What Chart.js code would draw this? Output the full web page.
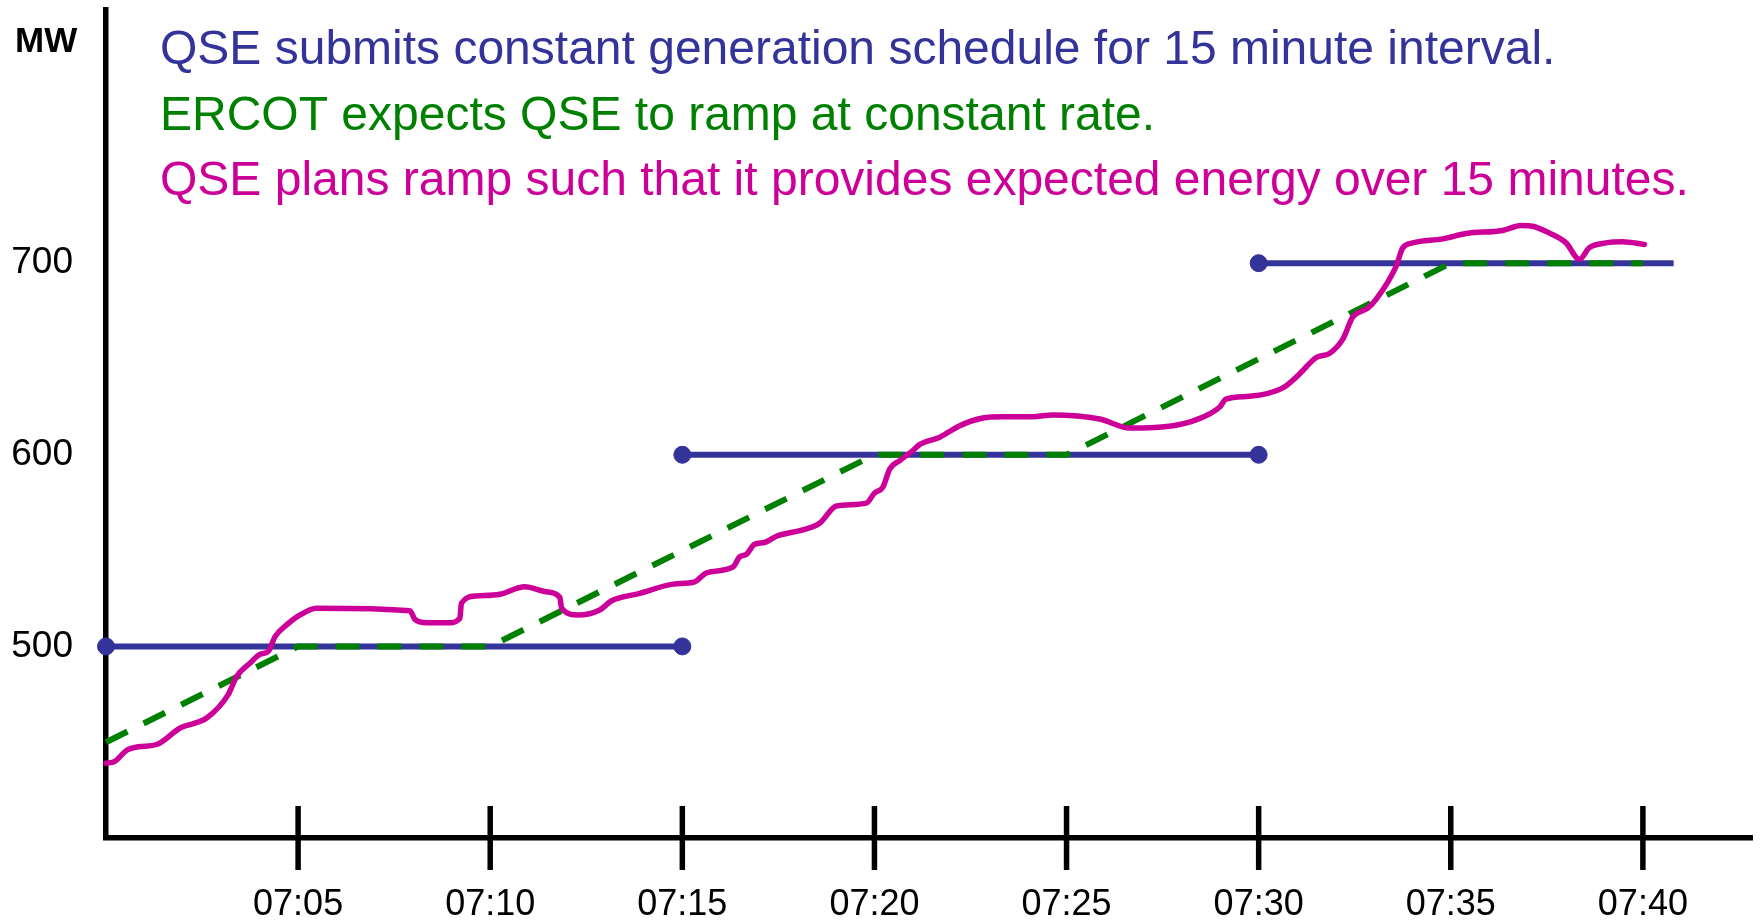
<!DOCTYPE html>
<html>
<head>
<meta charset="utf-8">
<script src="https://cdn.jsdelivr.net/npm/chart.js@4.4.1/dist/chart.umd.min.js"></script>
<style>
  html, body { margin: 0; padding: 0; background: #ffffff; }
  #wrap { width: 1763px; height: 921px; position: relative; }
</style>
</head>
<body>
<div id="wrap"><canvas id="c" width="1763" height="921"></canvas></div>
<script>
// ---- Data (minutes after 07:00, MW) ----
const xTickMinutes = [5, 10, 15, 20, 25, 30, 35, 40];
const xTickLabels = ['07:05', '07:10', '07:15', '07:20', '07:25', '07:30', '07:35', '07:40'];
const yTickValues = [500, 600, 700];

// QSE submitted constant schedule (blue)
const scheduleStart = [0, 15, 30];
const scheduleEnd = [15, 30, 40.8];
const scheduleMW = [500, 600, 700];
const scheduleEndDot = [true, true, false];

// ERCOT expected ramp (green dashed)
const rampMin = [0, 5, 10, 20, 25, 35, 40];
const rampMW = [450, 500, 500, 600, 600, 700, 700];

// QSE planned ramp (magenta)
const planMin = [0.0, 0.23, 0.54, 0.84, 1.32, 1.93, 2.62, 3.18, 3.40, 3.75, 4.01, 4.22, 4.40, 4.70, 5.05, 5.48,
  7.91, 8.04, 8.34, 8.95, 9.21, 9.25, 9.64, 10.25, 10.90, 11.46, 11.81, 11.86, 12.29, 12.85, 13.16, 13.89,
  14.76, 15.32, 15.63, 16.32, 16.49, 16.67, 16.88, 17.14, 17.45, 18.23, 18.58, 19.01, 19.79, 20.00, 20.22,
  20.40, 20.66, 21.00, 21.18, 21.70, 22.22, 22.82, 23.34, 24.12, 24.64, 25.86, 26.64, 27.77, 28.37, 28.98,
  29.15, 29.76, 30.63, 31.06, 31.50, 31.84, 32.19, 32.45, 32.84, 33.06, 33.58, 33.75, 34.01, 34.79, 35.40,
  36.35, 36.83, 37.13, 37.56, 38.00, 38.35, 38.60, 39.04, 39.47, 40.04];
const planMW = [439, 440, 445.8, 447.6, 448.8, 457.4, 462.6, 474.8, 484.3, 491.3, 495.9, 497.3, 505.1, 511.2, 516.4, 519.9,
  518.6, 514.1, 512.4, 512.4, 514.7, 522.5, 526.3, 527.2, 531.1, 528.5, 525.6, 519.9, 516.4, 519.0, 523.8, 527.7,
  532.5, 533.7, 538.4, 541.5, 546.7, 548.1, 553.3, 554.2, 557.5, 561.3, 564.4, 573.3, 574.8, 580.0, 583.1,
  592.7, 597.0, 602.2, 605.4, 609.2, 615.2, 619.2, 619.9, 619.9, 620.8, 618.7, 614.0, 615.2, 618.2, 624.8,
  629.1, 630.5, 634.9, 642.1, 650.8, 652.9, 660.4, 672.0, 676.5, 681.2, 698.5, 708.0, 710.6, 712.7, 715.5,
  717.1, 719.7, 719.3, 715.8, 710.6, 702.0, 708.0, 710.6, 711.2, 709.8];

const titleLines = [
  'QSE submits constant generation schedule for 15 minute interval.',
  'ERCOT expects QSE to ramp at constant rate.',
  'QSE plans ramp such that it provides expected energy over 15 minutes.'
];
const yAxisUnit = 'MW';

// ---- Styles ----
const BLUE = '#333399', GREEN = '#008000', MAGENTA = '#CC0099';
const FONT = "'Liberation Sans', Arial, Helvetica, sans-serif";
const titleColors = [BLUE, GREEN, MAGENTA];

const zip = (xs, ys) => xs.map((x, i) => ({ x: x, y: ys[i] }));

const datasets = [];
datasets.push({
  label: 'plan', data: zip(planMin, planMW), borderColor: MAGENTA, borderWidth: 5.5,
  pointRadius: 0, cubicInterpolationMode: 'monotone', borderJoinStyle: 'round', borderCapStyle: 'round',
  fill: false, clip: false
});
datasets.push({
  label: 'ramp', data: zip(rampMin, rampMW), borderColor: GREEN, borderWidth: 6,
  borderDash: [24, 18], borderCapStyle: 'butt', pointRadius: 0, tension: 0, fill: false, clip: false
});
scheduleMW.forEach((mw, i) => {
  datasets.push({
    label: 'sched' + i,
    data: [{ x: scheduleStart[i], y: mw }, { x: scheduleEnd[i], y: mw }],
    borderColor: BLUE, backgroundColor: BLUE, borderWidth: 6,
    pointRadius: [8.5, scheduleEndDot[i] ? 8.5 : 0], pointBorderWidth: 1,
    pointBackgroundColor: BLUE, pointBorderColor: BLUE, tension: 0, fill: false, clip: false
  });
});

const decorPlugin = {
  id: 'decor',
  afterDraw(chart) {
    const ctx = chart.ctx;
    const xs = chart.scales.x;
    const bottom = chart.chartArea.bottom;
    ctx.save();
    // crossing tick marks on the time axis
    ctx.strokeStyle = '#000';
    ctx.lineWidth = 5.5;
    xs.ticks.forEach(t => {
      const px = xs.getPixelForValue(t.value);
      ctx.beginPath();
      ctx.moveTo(px, bottom - 32);
      ctx.lineTo(px, bottom + 32);
      ctx.stroke();
    });
    // titles
    ctx.textAlign = 'left';
    ctx.textBaseline = 'alphabetic';
    ctx.font = '48px ' + FONT;
    const baselines = [63.5, 129.5, 195];
    titleLines.forEach((line, i) => {
      ctx.fillStyle = titleColors[i];
      ctx.fillText(line, 160, baselines[i]);
    });
    // unit label
    ctx.fillStyle = '#000';
    ctx.font = 'bold 35px ' + FONT;
    ctx.fillText(yAxisUnit, 15, 51.5);
    ctx.restore();
  }
};

new Chart(document.getElementById('c'), {
  type: 'line',
  data: { datasets: datasets },
  plugins: [decorPlugin],
  options: {
    responsive: false,
    devicePixelRatio: 1,
    animation: false,
    layout: { padding: { top: 7, right: 11, left: 0, bottom: 0 } },
    plugins: { legend: { display: false }, tooltip: { enabled: false }, title: { display: false } },
    scales: {
      x: {
        type: 'linear', min: 0, max: 42.84,
        grid: { display: false, drawTicks: false },
        border: { display: true, color: '#000', width: 5.5 },
        afterFit: s => { s.height = 83; s.paddingLeft = 0; s.paddingRight = 0; },
        afterBuildTicks: s => { s.ticks = xTickMinutes.map(v => ({ value: v })); },
        ticks: {
          autoSkip: false, maxRotation: 0, padding: 45,
          color: '#000', font: { family: FONT, size: 36 },
          callback: (v) => { const i = xTickMinutes.indexOf(v); return i >= 0 ? xTickLabels[i] : ''; }
        }
      },
      y: {
        type: 'linear', min: 400, max: 832.4,
        grid: { display: false, drawTicks: false },
        border: { display: true, color: '#000', width: 5.5 },
        afterFit: s => { s.width = 106; s.paddingTop = 0; s.paddingBottom = 0; },
        afterBuildTicks: s => { s.ticks = yTickValues.map(v => ({ value: v })); },
        ticks: {
          padding: 33, color: '#000', font: { family: FONT, size: 37 },
          callback: v => String(v)
        }
      }
    }
  }
});
</script>
</body>
</html>
